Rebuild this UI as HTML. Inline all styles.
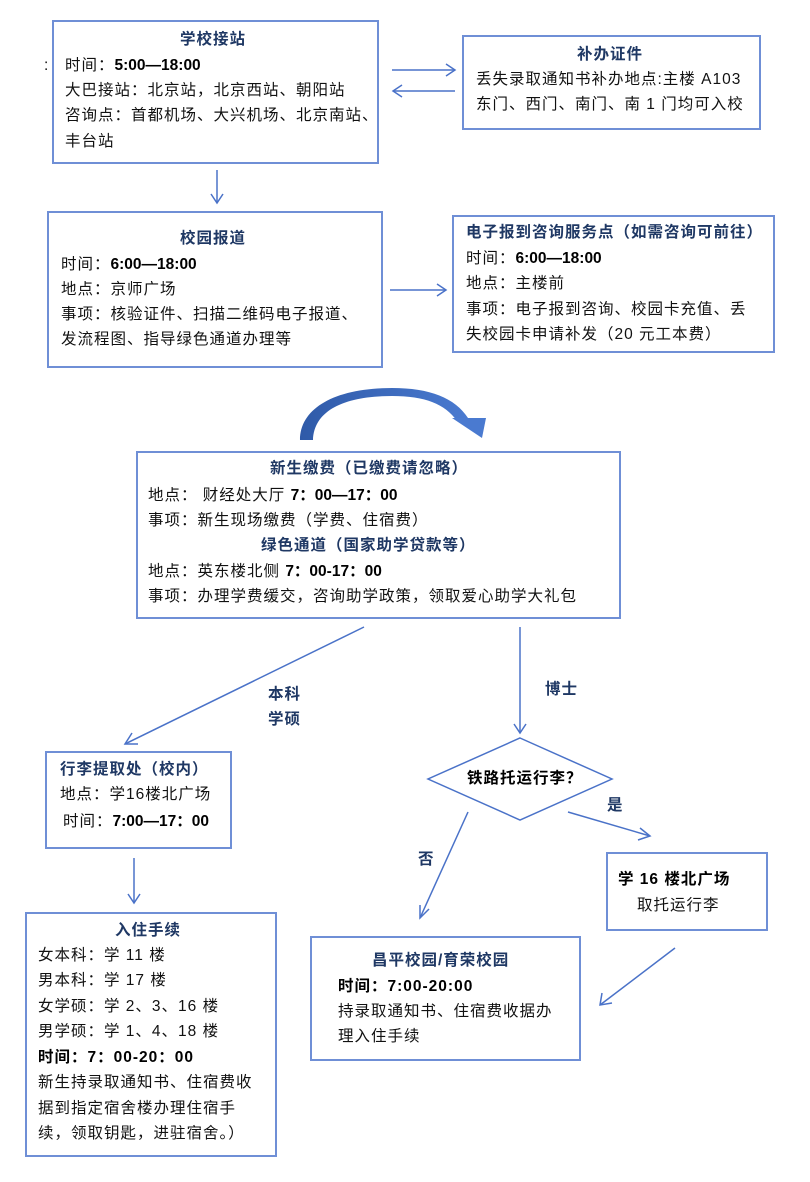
<!DOCTYPE html>
<html><head><meta charset="utf-8"><style>
body{margin:0;width:810px;height:1182px;background:#fff;position:relative;overflow:hidden;font-family:"Liberation Sans","Noto Sans CJK SC",sans-serif;}
.b{position:absolute;border:2px solid #6f8fd6;box-sizing:border-box;background:#fff;}
.t{position:absolute;font-size:15.5px;line-height:22px;white-space:nowrap;color:#111;letter-spacing:1px;}
.h{font-weight:bold;color:#1f3864;}
.k{font-weight:bold;color:#000;}
span.k{letter-spacing:0;}
svg{position:absolute;left:0;top:0;}
</style></head><body>
<svg width="810" height="1182">
<defs>
<linearGradient id="g" x1="0" y1="0" x2="1" y2="0"><stop offset="0" stop-color="#2f5aa8"/><stop offset="1" stop-color="#4a7ad0"/></linearGradient>
</defs>
<g stroke="#4a72c8" stroke-width="1.5" fill="none">
<line x1="392" y1="70" x2="455" y2="70"/><polyline points="446,64 455,70 446,76"/>
<line x1="455" y1="91" x2="393" y2="91"/><polyline points="402,85 393,91 402,97"/>
<line x1="217" y1="170" x2="217" y2="203"/><polyline points="211,194 217,203 223,194"/>
<line x1="390" y1="290" x2="446" y2="290"/><polyline points="437,284 446,290 437,296"/>
<line x1="364" y1="627" x2="125" y2="744"/><polyline points="132,733 125,744 138,744"/>
<line x1="520" y1="627" x2="520" y2="733"/><polyline points="514,724 520,733 526,724"/>
<line x1="134" y1="858" x2="134" y2="903"/><polyline points="128,894 134,903 140,894"/>
<line x1="468" y1="812" x2="420" y2="918"/><polyline points="420,905 420,918 429,909"/>
<line x1="568" y1="812" x2="650" y2="836"/><polyline points="640,828 650,836 638,840"/>
<line x1="675" y1="948" x2="600" y2="1005"/><polyline points="602,993 600,1005 612,1003"/>
<polygon points="520,738 612,779 520,820 428,779"/>
</g>
<path d="M300,440 C300,408 335,388 392,388 C430,388 455,398 468,418 L457,421 C445,404 425,396 392,396 C345,396 314,410 313,440 Z" fill="url(#g)"/>
<polygon points="452,418 486,418 482,438" fill="#4a7ad0"/>
</svg>

<div class="b" style="left:52px;top:20px;width:327px;height:144px"></div>
<div class="t h" style="left:180px;top:29px">学校接站</div>
<div class="t" style="left:44px;top:55px">:</div>
<div class="t" style="left:65px;top:55px">时间：<span class="k">5:00—18:00</span></div>
<div class="t" style="left:65px;top:80px">大巴接站：北京站，北京西站、朝阳站</div>
<div class="t" style="left:65px;top:105px">咨询点：首都机场、大兴机场、北京南站、</div>
<div class="t" style="left:65px;top:131px">丰台站</div>

<div class="b" style="left:462px;top:35px;width:299px;height:95px"></div>
<div class="t h" style="left:577px;top:44px">补办证件</div>
<div class="t" style="left:476px;top:69px">丢失录取通知书补办地点:主楼 A103</div>
<div class="t" style="left:476px;top:94px">东门、西门、南门、南 1 门均可入校</div>

<div class="b" style="left:47px;top:211px;width:336px;height:157px"></div>
<div class="t h" style="left:180px;top:228px">校园报道</div>
<div class="t" style="left:61px;top:254px">时间：<span class="k">6:00—18:00</span></div>
<div class="t" style="left:61px;top:279px">地点：京师广场</div>
<div class="t" style="left:61px;top:304px">事项：核验证件、扫描二维码电子报道、</div>
<div class="t" style="left:61px;top:329px">发流程图、指导绿色通道办理等</div>

<div class="b" style="left:452px;top:215px;width:323px;height:138px"></div>
<div class="t h" style="left:466px;top:222px">电子报到咨询服务点（如需咨询可前往）</div>
<div class="t" style="left:466px;top:248px">时间：<span class="k">6:00—18:00</span></div>
<div class="t" style="left:466px;top:273px">地点：主楼前</div>
<div class="t" style="left:466px;top:299px">事项：电子报到咨询、校园卡充值、丢</div>
<div class="t" style="left:466px;top:324px">失校园卡申请补发（20 元工本费）</div>

<div class="b" style="left:136px;top:451px;width:485px;height:168px"></div>
<div class="t h" style="left:270px;top:458px">新生缴费（已缴费请忽略）</div>
<div class="t" style="left:148px;top:485px">地点：&nbsp;财经处大厅 <span class="k">7：00—17：00</span></div>
<div class="t" style="left:148px;top:510px">事项：新生现场缴费（学费、住宿费）</div>
<div class="t h" style="left:261px;top:535px">绿色通道（国家助学贷款等）</div>
<div class="t" style="left:148px;top:561px">地点：英东楼北侧 <span class="k">7：00-17：00</span></div>
<div class="t" style="left:148px;top:586px">事项：办理学费缓交，咨询助学政策，领取爱心助学大礼包</div>

<div class="t h" style="left:268px;top:684px">本科</div>
<div class="t h" style="left:268px;top:709px">学硕</div>
<div class="t h" style="left:545px;top:679px">博士</div>

<div class="t k" style="left:467px;top:768px">铁路托运行李？</div>
<div class="t h" style="left:607px;top:795px">是</div>
<div class="t h" style="left:418px;top:849px">否</div>

<div class="b" style="left:45px;top:751px;width:187px;height:98px"></div>
<div class="t h" style="left:60px;top:759px">行李提取处（校内）</div>
<div class="t" style="left:60px;top:784px">地点：学16楼北广场</div>
<div class="t" style="left:63px;top:811px">时间：<span class="k">7:00—17：00</span></div>

<div class="b" style="left:25px;top:912px;width:252px;height:245px"></div>
<div class="t h" style="left:115px;top:920px">入住手续</div>
<div class="t" style="left:38px;top:945px">女本科：学 11 楼</div>
<div class="t" style="left:38px;top:970px">男本科：学 17 楼</div>
<div class="t" style="left:38px;top:996px">女学硕：学 2、3、16 楼</div>
<div class="t" style="left:38px;top:1021px">男学硕：学 1、4、18 楼</div>
<div class="t k" style="left:38px;top:1047px">时间：7：00-20：00</div>
<div class="t" style="left:38px;top:1072px">新生持录取通知书、住宿费收</div>
<div class="t" style="left:38px;top:1098px">据到指定宿舍楼办理住宿手</div>
<div class="t" style="left:38px;top:1123px">续，领取钥匙，进驻宿舍。）</div>

<div class="b" style="left:606px;top:852px;width:162px;height:79px"></div>
<div class="t k" style="left:618px;top:869px">学 16 楼北广场</div>
<div class="t" style="left:637px;top:895px">取托运行李</div>

<div class="b" style="left:310px;top:936px;width:271px;height:125px"></div>
<div class="t h" style="left:372px;top:950px">昌平校园/育荣校园</div>
<div class="t k" style="left:338px;top:976px">时间：7:00-20:00</div>
<div class="t" style="left:338px;top:1001px">持录取通知书、住宿费收据办</div>
<div class="t" style="left:338px;top:1026px">理入住手续</div>
</body></html>
